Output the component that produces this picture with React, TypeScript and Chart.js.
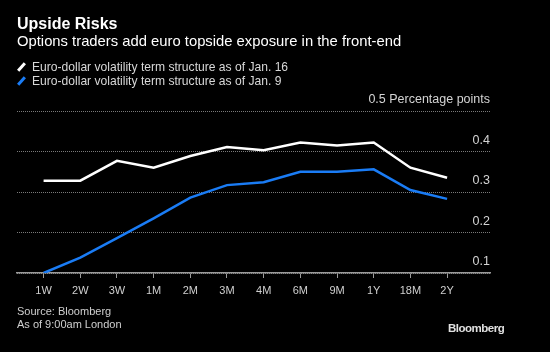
import React, { useEffect, useRef } from "react";
import { Chart, registerables } from "chart.js";

Chart.register(...registerables);

const tenors = ["1W", "2W", "3W", "1M", "2M", "3M", "4M", "6M", "9M", "1Y", "18M", "2Y"];
const jan16 = [0.328, 0.328, 0.377, 0.36, 0.389, 0.411, 0.403, 0.422, 0.415, 0.422, 0.36, 0.335];
const jan9 = [0.1, 0.138, 0.186, 0.235, 0.286, 0.317, 0.324, 0.35, 0.35, 0.356, 0.305, 0.283];
const yTicks = [0.1, 0.2, 0.3, 0.4, 0.5];
const seriesNames = [
  "Euro-dollar volatility term structure as of Jan. 16",
  "Euro-dollar volatility term structure as of Jan. 9",
];
const seriesColors = ["#ffffff", "#1a7cf5"];

const FONT = "'Liberation Sans', Arial, sans-serif";

export default function App() {
  const ref = useRef<HTMLCanvasElement | null>(null);

  useEffect(() => {
    document.body.style.margin = "0";
    document.body.style.background = "#000";
    const ctx = ref.current!;
    const chart = new Chart(ctx, {
      type: "line",
      data: {
        datasets: [
          {
            label: seriesNames[0],
            data: jan16.map((v, i) => ({ x: i, y: v })),
            borderColor: seriesColors[0],
            borderWidth: 2.5,
            pointRadius: 0,
            tension: 0,
          },
          {
            label: seriesNames[1],
            data: jan9.map((v, i) => ({ x: i, y: v })),
            borderColor: seriesColors[1],
            borderWidth: 2.5,
            pointRadius: 0,
            tension: 0,
          },
        ],
      },
      options: {
        animation: false,
        responsive: false,
        events: [],
        layout: { padding: { left: 17, right: 60, top: 111, bottom: 0 } },
        plugins: { legend: { display: false }, tooltip: { enabled: false } },
        scales: {
          x: {
            type: "linear",
            min: -0.725,
            max: 12.17,
            afterBuildTicks: (s: any) => {
              s.ticks = tenors.map((_, i) => ({ value: i }));
            },
            afterFit: (s: any) => {
              s.height = 79;
            },
            border: { display: true, color: "#9a9a9a", width: 1.5 },
            grid: {
              drawOnChartArea: false,
              drawTicks: true,
              tickLength: 5,
              color: "#9a9a9a",
              lineWidth: 1,
            },
            ticks: {
              autoSkip: false,
              maxRotation: 0,
              padding: 6,
              color: "#cfcfcf",
              font: { family: FONT, size: 11 },
              callback: (v: any) => tenors[Math.round(Number(v))] ?? "",
            },
          },
          y: {
            type: "linear",
            position: "right",
            min: 0.1,
            max: 0.5,
            afterBuildTicks: (s: any) => {
              s.ticks = yTicks.map((v) => ({ value: v }));
            },
            afterFit: (s: any) => {
              s.width = 0;
            },
            border: { display: false, dash: [1, 1] },
            grid: {
              drawTicks: false,
              color: "#7a7a7a",
              lineWidth: 1,
            },
            ticks: {
              mirror: true,
              padding: 0,
              labelOffset: -11,
              color: "#d4d4d4",
              font: { family: FONT, size: 12.5 },
              callback: (v: any) =>
                Math.abs(Number(v) - 0.5) < 1e-9
                  ? "0.5 Percentage points"
                  : Number(v).toFixed(1),
            },
          },
        },
      },
    } as any);
    return () => chart.destroy();
  }, []);

  const text = (extra: React.CSSProperties): React.CSSProperties => ({
    position: "absolute",
    fontFamily: FONT,
    whiteSpace: "nowrap",
    margin: 0,
    ...extra,
  });

  return (
    <div style={{ position: "relative", width: 550, height: 352, background: "#000", overflow: "hidden" }}>
      <canvas ref={ref} width={550} height={352} style={{ position: "absolute", left: 0, top: 0 }} />
      <div style={text({ left: 17, top: 15, fontSize: 16, fontWeight: 700, color: "#fff" })}>Upside Risks</div>
      <div style={text({ left: 17, top: 33, fontSize: 14.8, color: "#fff" })}>
        Options traders add euro topside exposure in the front-end
      </div>
      {seriesNames.map((n, i) => (
        <div key={n} style={text({ left: 17, top: 60 + i * 14, fontSize: 12.1, color: "#d8d8d8", display: "flex", alignItems: "center" })}>
          <span
            style={{
              display: "inline-block",
              width: 3,
              height: 10,
              background: seriesColors[i],
              transform: "rotate(42deg)",
              marginLeft: 3,
              marginRight: 9,
            }}
          />
          {n}
        </div>
      ))}
      <div style={text({ left: 17, top: 305, fontSize: 11, color: "#cfcfcf", lineHeight: "13px" })}>
        Source: Bloomberg
        <br />
        As of 9:00am London
      </div>
      <div style={text({ left: 448, top: 322, fontSize: 11.5, fontWeight: 700, color: "#e0e0e0", letterSpacing: "-0.5px" })}>
        Bloomberg
      </div>
    </div>
  );
}
